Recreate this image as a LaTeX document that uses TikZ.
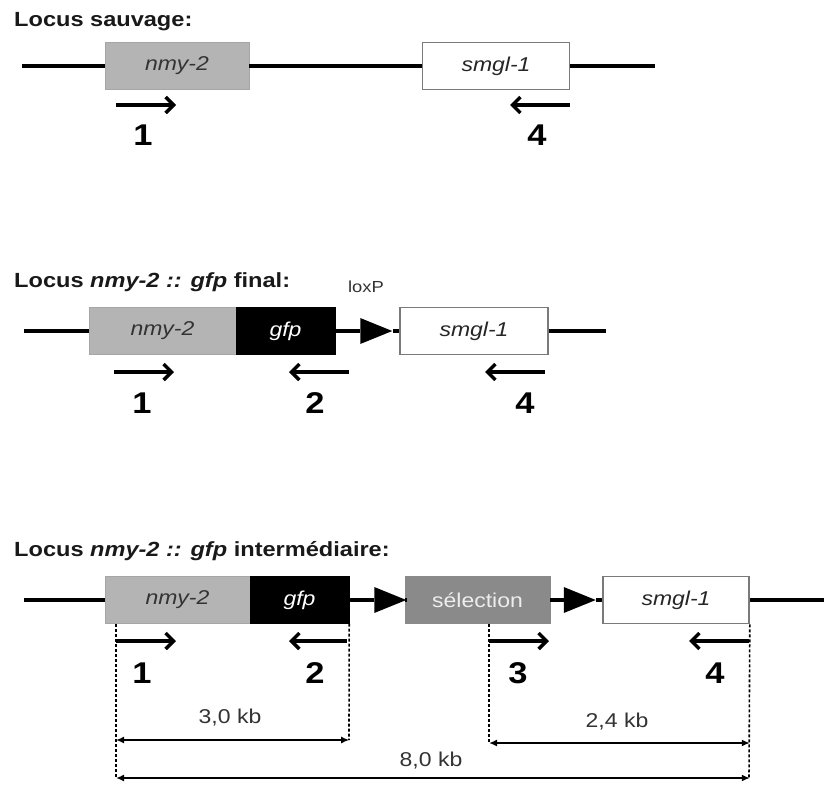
\documentclass[tikz,border=0pt]{standalone}
\usepackage{fontspec}
\setmainfont{Liberation Sans}[FakeStretch=1.15]
\usetikzlibrary{
  arrows.meta,
  positioning,
  shapes.geometric
}
\definecolor{nmygray}{HTML}{B4B4B4}
\definecolor{selgray}{HTML}{8A8A8A}
\definecolor{edgegray}{HTML}{7A7A7A}
\definecolor{seltext}{HTML}{EDEDED}
\definecolor{inkgray}{HTML}{333333}

\begin{document}
\begin{tikzpicture}[x=1pt, y=-1pt,
      gene/.style={
        rectangle, minimum height=47pt, inner sep=0pt,
        font=\fontsize{20}{22}\selectfont\itshape
      },
      nmy/.style={gene, fill=nmygray, draw=nmygray!92!black, line width=0.8pt, text=inkgray},
      gfpbox/.style={gene, fill=black, draw=black, text=white},
      smgl/.style={gene, fill=white, draw=edgegray, line width=1.6pt, text=black!85},
      sel/.style={gene, fill=selgray, draw=selgray, text=seltext, font=\fontsize{20}{22}\selectfont},
      loxp/.style={
        isosceles triangle, isosceles triangle stretches, fill=black,
        inner sep=0pt, minimum width=26pt, minimum height=32pt
      },
      title/.style={anchor=west, inner sep=0pt, font=\fontsize{20.5}{24}\selectfont\bfseries, text=black!90},
      num/.style={font=\fontsize{30}{32}\selectfont\bfseries},
      kb/.style={font=\fontsize{20}{22}\selectfont, text=inkgray},
      dna/.style={line width=3.4pt},
      primer/.style={line width=3.4pt, -{Straight Barb[length=8pt,width=16pt]}},
      guide/.style={dash pattern=on 3pt off 2pt, line width=1.6pt},
      dim/.style={line width=1.8pt, {Latex[length=8pt,width=7pt]}-{Latex[length=8pt,width=7pt]}}
    ]
      \useasboundingbox (0,0) rectangle (824,784);

      % Locus sauvage
      \node[title] (t1) at (14,22) {Locus sauvage:};
      \coordinate (a-l) at (22,66);
      \node[nmy, minimum width=144pt] (a-nmy) at (177,66) {nmy-2};
      \node[smgl, minimum width=147pt] (a-smgl) at (496,66) {smgl-1};
      \coordinate (a-r) at (655,66);
      \draw[dna] (a-l) -- (a-nmy);
      \draw[dna] (a-nmy) -- (a-smgl);
      \draw[dna] (a-smgl) -- (a-r);

      \draw[primer] (116,105) -- (176,105);
      \draw[primer] (570,105) -- (510,105);
      \node[num] (a-n1) at (143,135) {1};
      \node[num] (a-n4) at (537,135) {4};

      % Locus final
      \node[title] (t2) at (14,282) {Locus \textit{nmy-2 ::} \textit{gfp} final:};
      \node[font=\fontsize{16}{18}\selectfont, text=inkgray] (lox) at (366,287) {loxP};
      \coordinate (b-l) at (24,331);
      \node[nmy, minimum width=147pt] (b-nmy) at (162.5,331) {nmy-2};
      \node[gfpbox, minimum width=99pt] (b-gfp) at (285.5,331) {gfp};
      \node[loxp] (b-lox) at (369,331) {};
      \node[smgl, minimum width=148pt] (b-smgl) at (474,331) {smgl-1};
      \coordinate (b-r) at (606,331);
      \draw[dna] (b-l) -- (b-nmy);
      \draw[dna] (b-gfp) -- (b-lox);
      \draw[dna] (b-lox) -- (b-smgl);
      \draw[dna] (b-smgl) -- (b-r);

      \draw[primer] (114,372) -- (174,372);
      \draw[primer] (349,372) -- (289,372);
      \draw[primer] (545,372) -- (485,372);
      \node[num] (b-n1) at (142,403) {1};
      \node[num] (b-n2) at (315,403) {2};
      \node[num] (b-n4) at (525,403) {4};

      % Locus intermediaire
      \node[title] (t3) at (14,551) {Locus \textit{nmy-2 :: gfp} intermédiaire:};
      \coordinate (c-l) at (24,600);
      \node[nmy, minimum width=145pt] (c-nmy) at (177.5,600) {nmy-2};
      \node[gfpbox, minimum width=99pt] (c-gfp) at (299.5,600) {gfp};
      \node[loxp] (c-lox1) at (383,600) {};
      \node[sel, minimum width=145pt] (c-sel) at (477.5,600) {sélection};
      \node[loxp] (c-lox2) at (572.5,600) {};
      \node[smgl, minimum width=146pt] (c-smgl) at (676,600) {smgl-1};
      \coordinate (c-r) at (824,600);
      \draw[dna] (c-l) -- (c-nmy);
      \draw[dna] (c-gfp) -- (c-lox1);
      \draw[dna] (c-lox1) -- (c-sel);
      \draw[dna] (c-sel) -- (c-lox2);
      \draw[dna] (c-lox2) -- (c-smgl);
      \draw[dna] (c-smgl) -- (c-r);

      \draw[primer] (116,641) -- (176,641);
      \draw[primer] (347,641) -- (289,641);
      \draw[primer] (489,641) -- (549,641);
      \draw[primer] (749,641) -- (689,641);
      \node[num] (c-n1) at (142,673) {1};
      \node[num] (c-n2) at (315,673) {2};
      \node[num] (c-n3) at (518,673) {3};
      \node[num] (c-n4) at (715,673) {4};

      % Sizes
      \coordinate (c-g1) at (116,624);
      \coordinate (c-g2) at (c-gfp.south east);
      \coordinate (c-g3) at (489,624);
      \coordinate (c-g4) at (c-smgl.south east);
      \draw[guide] (c-g1) -- (116,778);
      \draw[guide] (c-g2) -- (349,740);
      \draw[guide] (c-g3) -- (489,743);
      \draw[guide] (c-g4) -- (749,778);

      \draw[dim] (c-g1 |- 0,740) -- (c-g2 |- 0,740);
      \draw[dim] (c-g3 |- 0,743) -- (c-g4 |- 0,743);
      \draw[dim] (c-g1 |- 0,778) -- (c-g4 |- 0,778);
      \node[kb] (kb30) at (230,718) {3,0 kb};
      \node[kb] (kb24) at (617,722) {2,4 kb};
      \node[kb] (kb80) at (431,761) {8,0 kb};
    \end{tikzpicture}
\end{document}
